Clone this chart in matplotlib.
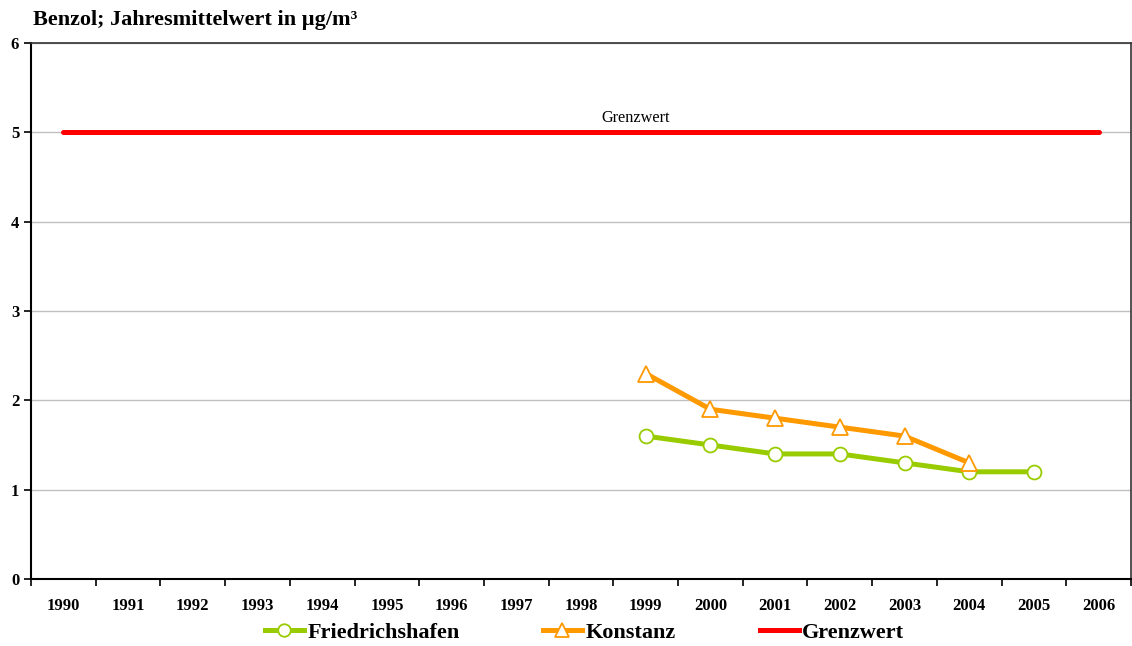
import numpy as np
import matplotlib
matplotlib.use("Agg")
import matplotlib.pyplot as plt
from matplotlib.lines import Line2D

plt.rcParams["font.family"] = ["Liberation Serif", "DejaVu Serif"]

years = [str(y) for y in range(1990, 2007)]
nan = np.nan
friedrichshafen = [nan] * 9 + [1.6, 1.5, 1.4, 1.4, 1.3, 1.2, 1.2, nan]
konstanz = [nan] * 9 + [2.3, 1.9, 1.8, 1.7, 1.6, 1.3, nan, nan]
grenzwert = [5] * 17

green = "#99CC00"
orange = "#FF9900"
red = "#FF0000"

fig = plt.figure(figsize=(11.32, 6.46), dpi=100)
ax = fig.add_axes([31 / 1132, 67 / 646, 1100 / 1132, 536 / 646])

x = np.arange(len(years))
ax.plot(x, grenzwert, color=red, lw=3.6, solid_capstyle="round", zorder=3)
ax.plot(x, friedrichshafen, color=green, lw=3.6, marker="o", ms=10,
        mfc="white", mec=green, mew=1.3, zorder=4)
ax.plot(x, konstanz, color=orange, lw=3.6, marker="^", ms=11,
        mfc="white", mec=orange, mew=1.3, zorder=5)

ax.text(8.85, 5.07, "Grenzwert", ha="center", va="bottom", fontsize=11.7)

ax.set_xlim(-0.5, len(years) - 0.5)
ax.set_ylim(0, 6)
ax.set_yticks(range(0, 7))
ax.yaxis.grid(True, color="#C0C0C0", lw=1)
ax.set_axisbelow(True)

ax.set_xticks(np.arange(-0.5, len(years)), labels=[])
ax.set_xticks(x, labels=years, minor=True)
ax.tick_params(axis="x", which="major", direction="out", length=5, width=1.2)
ax.tick_params(axis="x", which="minor", length=0, pad=14, labelsize=12)
ax.tick_params(axis="y", direction="out", length=5, width=1.2, labelsize=12)
for lab in ax.get_xticklabels(minor=True) + ax.get_yticklabels():
    lab.set_fontweight("bold")

ax.spines["left"].set_linewidth(1.5)
ax.spines["bottom"].set_linewidth(1.5)
ax.spines["top"].set_linewidth(1.2)
ax.spines["top"].set_color("#333333")
ax.spines["right"].set_linewidth(1.2)
ax.spines["right"].set_color("#333333")

fig.text(33 / 1132, 1 - 20 / 646, "Benzol; Jahresmittelwert in µg/m³",
         fontsize=16, fontweight="bold", va="center", ha="left")

entries = [
    ("Friedrichshafen", Line2D([], [], color=green, lw=3.6, marker="o", ms=9,
                               mfc="white", mec=green, mew=1.3), 265),
    ("Konstanz", Line2D([], [], color=orange, lw=3.6, marker="^", ms=10,
                        mfc="white", mec=orange, mew=1.3), 543),
    ("Grenzwert", Line2D([], [], color=red, lw=3.6), 760),
]
for label, handle, xpos in entries:
    fig.legend([handle], [label], loc="center left",
               bbox_to_anchor=(xpos / 1132, 1 - 633 / 646), frameon=False,
               handlelength=1.75, handletextpad=0.15, borderpad=0, borderaxespad=0,
               prop={"weight": "bold", "size": 16})

fig.savefig("out.png", dpi=100)
